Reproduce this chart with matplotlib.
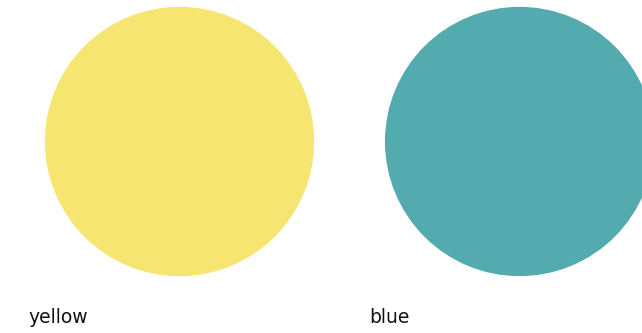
import matplotlib.pyplot as plt
from matplotlib.patches import Circle

names = ['yellow', 'blue']
colors = ['#F6E571', '#53ABB0']

# layout in "slot" units: one slot = 340 px
radius = 0.396
label_dx = -0.443
label_y = -0.535

fig = plt.figure(figsize=(6.42, 3.33), dpi=100)
ax = fig.add_axes([0, 0, 1, 1])
ax.set_xlim(-0.528, 1.360)
ax.set_ylim(-0.563, 0.416)
ax.set_aspect('equal', adjustable='box')
ax.axis('off')

for i, (name, c) in enumerate(zip(names, colors)):
    ax.add_patch(Circle((i, 0), radius, color=c, lw=0))
    ax.text(i + label_dx, label_y, name, fontsize=13.5, family=['DejaVu Sans'],
            color='#111111', va='baseline', ha='left')

fig.savefig('out.png', dpi=100)
